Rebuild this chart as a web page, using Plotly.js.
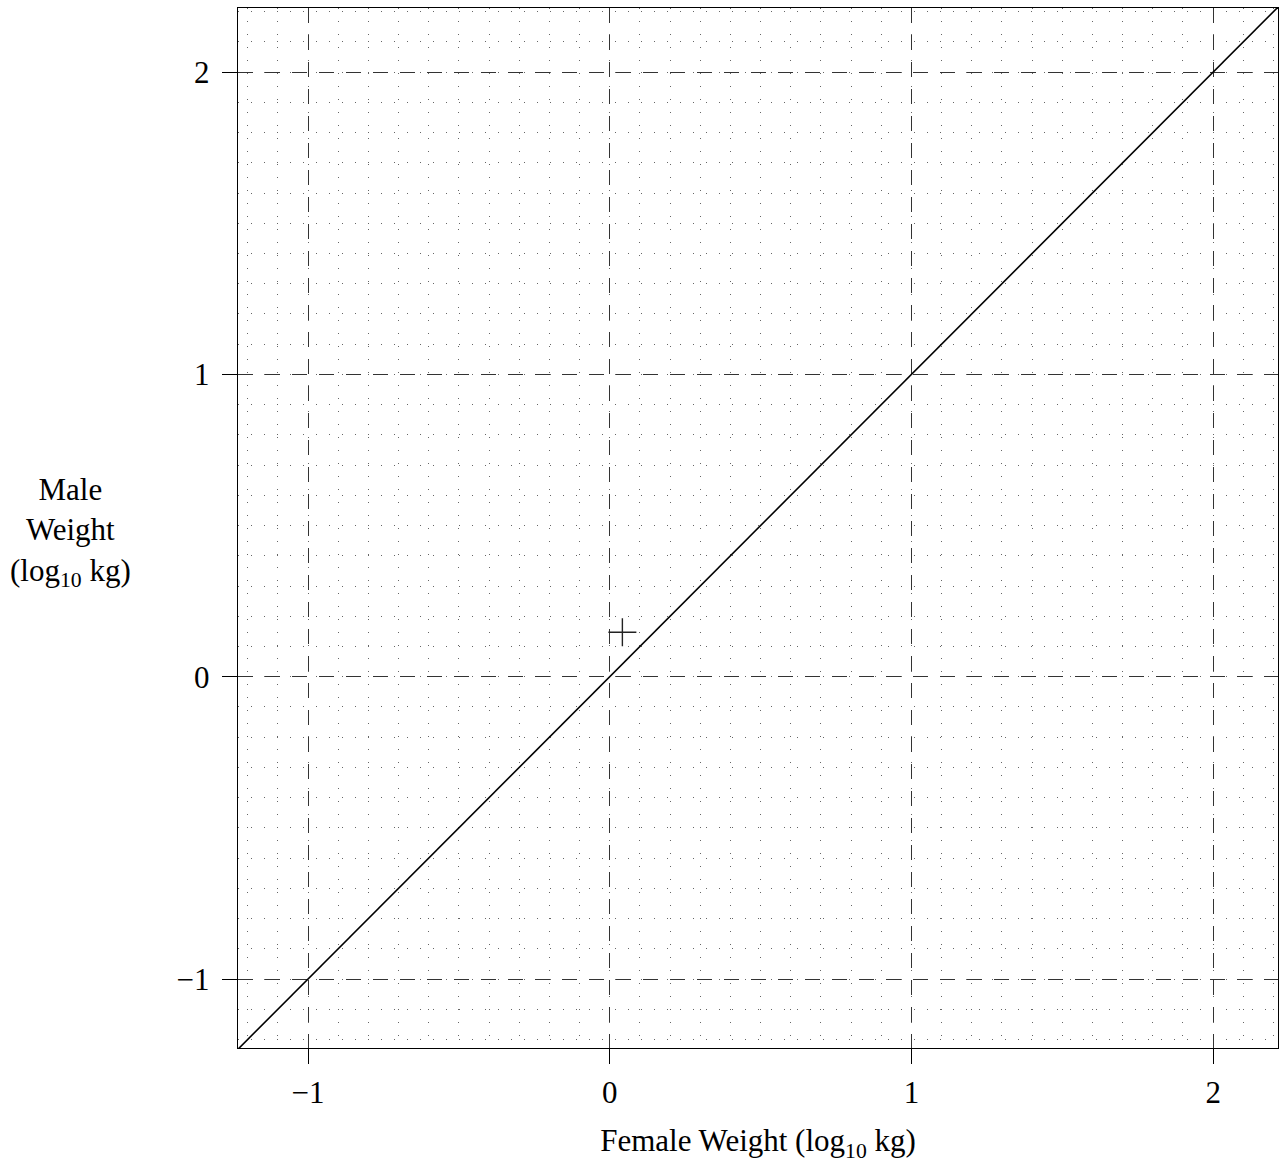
<!DOCTYPE html>
<html>
<head>
<meta charset="utf-8">
<script src="https://cdn.plot.ly/plotly-3.0.1.min.js"></script>
<style>html,body{margin:0;padding:0;background:#fff;}#chart{width:1280px;height:1163px;}</style>
</head>
<body>
<div id="chart"></div>
<script>
// Reference line y = x across the whole plotted range
const refLineX = [-1.232, 2.215];
const refLineY = [-1.232, 2.215];
// Single observation
const femaleWeight = [0.042];
const maleWeight = [0.147];
// Axis ticks
const tickVals = [-1, 0, 1, 2];
const tickText = ['\u22121', '0', '1', '2'];
const xTitle = 'Female Weight (log<sub>10</sub> kg)';
const yTitle = 'Male<br>Weight<br>(log<sub>10</sub> kg)';

const fontFamily = '"Liberation Serif", "DejaVu Serif", serif';

const traces = [
  {x: refLineX, y: refLineY, mode: 'lines', type: 'scatter',
   line: {color: '#000', width: 1.6}, hoverinfo: 'skip', showlegend: false},
  {x: femaleWeight, y: maleWeight, mode: 'markers', type: 'scatter',
   marker: {symbol: 'cross-thin-open', size: 20, color: '#222', line: {color: '#222', width: 1.4}},
   showlegend: false}
];

const axisCommon = {
  tickvals: tickVals, ticktext: tickText,
  ticks: 'outside', ticklen: 15, tickwidth: 1, tickcolor: '#000',
  showline: true, linecolor: '#000', linewidth: 1.2, mirror: true,
  showgrid: true, gridcolor: '#333', gridwidth: 1, griddash: '15px,12px',
  zeroline: false,
  tickfont: {family: fontFamily, size: 31, color: '#000'},
  minor: {dtick: 0.1, tick0: 0, showgrid: true, gridcolor: '#666', gridwidth: 1,
          griddash: '1px,12px', ticks: ''}
};

const layout = {
  width: 1280, height: 1163,
  margin: {l: 238, r: 2, t: 8, b: 115},
  paper_bgcolor: '#fff', plot_bgcolor: '#fff',
  xaxis: Object.assign({}, axisCommon, {
    range: [-1.232, 2.215], ticklabelstandoff: 2,
    title: {text: xTitle, font: {family: fontFamily, size: 31, color: '#000'}, standoff: 22}
  }),
  yaxis: Object.assign({}, axisCommon, {
    range: [-1.228, 2.212], ticklabelstandoff: 6
  }),
  annotations: [{
    text: yTitle, xref: 'paper', yref: 'paper', x: -0.1615, y: 0.496,
    xanchor: 'center', yanchor: 'middle', showarrow: false, align: 'center',
    font: {family: fontFamily, size: 31, color: '#000'}
  }]
};

Plotly.newPlot('chart', traces, layout, {staticPlot: true});
</script>
</body>
</html>
